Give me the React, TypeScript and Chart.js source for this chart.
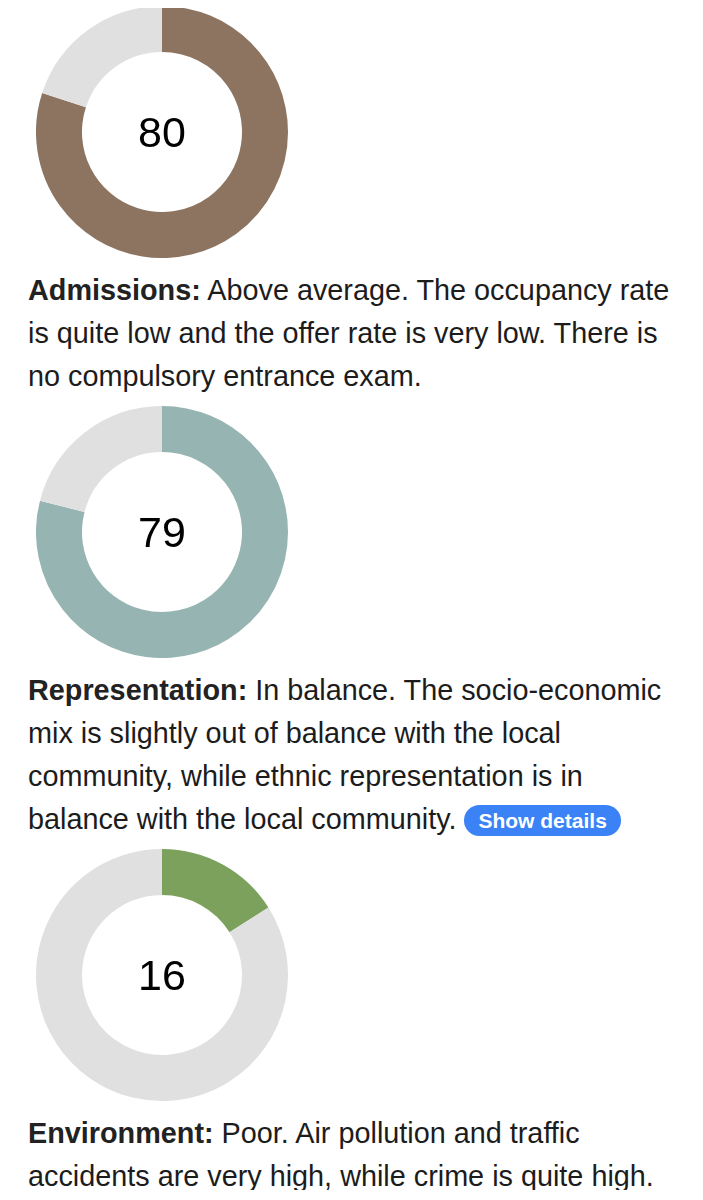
import React, { useEffect, useRef } from "react";
import { Chart, registerables } from "chart.js";

Chart.register(...registerables);

const categories = ["Admissions", "Representation", "Environment"];
const scores = [80, 79, 16];
const maxScore = 100;
const colors = ["#8c7461", "#95b4b2", "#7ba15c"];
const restColor = "#e0e0e0";

const descriptions: string[][] = [
  [
    " Above average. The occupancy rate",
    "is quite low and the offer rate is very low. There is",
    "no compulsory entrance exam.",
  ],
  [
    " In balance. The socio-economic",
    "mix is slightly out of balance with the local",
    "community, while ethnic representation is in",
    "balance with the local community.",
  ],
  [
    " Poor. Air pollution and traffic",
    "accidents are very high, while crime is quite high.",
  ],
];
const showDetails = [false, true, false];

const FONT = '"Liberation Sans", Arial, Helvetica, sans-serif';

function Donut({ value, color }: { value: number; color: string }) {
  const ref = useRef<HTMLCanvasElement | null>(null);
  useEffect(() => {
    if (!ref.current) return;
    const chart = new Chart(ref.current, {
      type: "doughnut",
      data: {
        labels: ["Score", "Rest"],
        datasets: [
          {
            data: [value, maxScore - value],
            backgroundColor: [color, restColor],
            borderWidth: 0,
            hoverOffset: 0,
          },
        ],
      },
      options: {
        animation: false,
        responsive: true,
        maintainAspectRatio: false,
        cutout: "63.5%",
        layout: { padding: 0 },
        plugins: { legend: { display: false }, tooltip: { enabled: false } },
        events: [],
      },
    });
    return () => chart.destroy();
  }, [value, color]);
  return (
    <div style={{ position: "relative", width: 252, height: 252, marginLeft: 36 }}>
      <canvas ref={ref} />
      <div
        style={{
          position: "absolute",
          left: 0,
          top: 0,
          width: 252,
          height: 252,
          display: "flex",
          alignItems: "center",
          justifyContent: "center",
          fontFamily: FONT,
          fontSize: 43,
          color: "#000",
          pointerEvents: "none",
        }}
      >
        {value}
      </div>
    </div>
  );
}

export default function App() {
  return (
    <div style={{ margin: -8, width: 703, fontFamily: FONT, background: "#fff" }}>
      {categories.map((cat, i) => (
        <div key={cat} style={{ paddingTop: i === 0 ? 6 : 8.5 }}>
          <Donut value={scores[i]} color={colors[i]} />
          <div
            style={{
              marginTop: 10.5,
              paddingLeft: 28,
              fontSize: 28.8,
              lineHeight: "43px",
              color: "#1c1c1c",
            }}
          >
            {descriptions[i].map((line, j) => (
              <div key={j} style={{ whiteSpace: "nowrap" }}>
                {j === 0 && <b style={{ color: "#222" }}>{cat}:</b>}
                {line}
                {showDetails[i] && j === descriptions[i].length - 1 && (
                  <>
                    {" "}
                    <span
                      style={{
                        display: "inline-block",
                        verticalAlign: "middle",
                        background: "#3a82f5",
                        color: "#fff",
                        fontWeight: "bold",
                        fontSize: 21,
                        lineHeight: "31px",
                        height: 31,
                        padding: "0 14px",
                        borderRadius: 16,
                      }}
                    >
                      Show details
                    </span>
                  </>
                )}
              </div>
            ))}
          </div>
        </div>
      ))}
    </div>
  );
}
